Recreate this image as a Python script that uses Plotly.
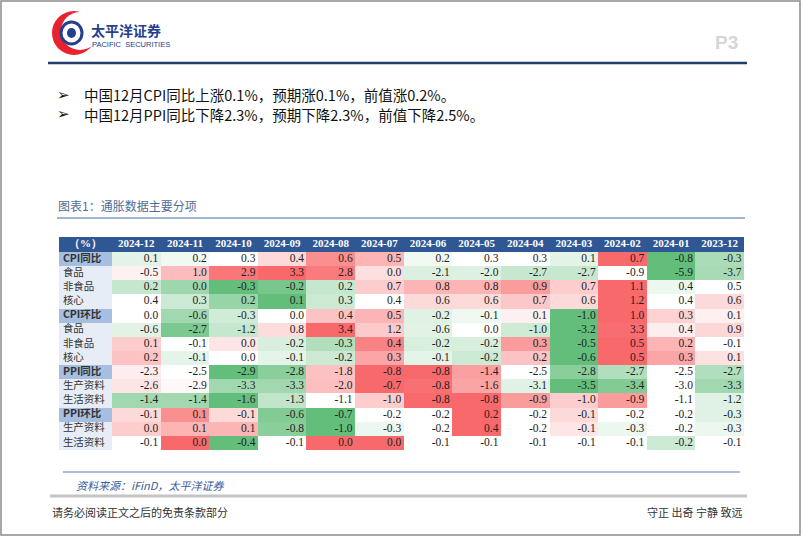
import numpy as np
import plotly.graph_objects as go

# months shown as table columns (newest first)
months = ["2024-12", "2024-11", "2024-10", "2024-09", "2024-08", "2024-07", "2024-06",
          "2024-05", "2024-04", "2024-03", "2024-02", "2024-01", "2023-12"]

row_labels = ["CPI同比", "食品", "非食品", "核心",
              "CPI环比", "食品", "非食品", "核心",
              "PPI同比", "生产资料", "生活资料",
              "PPI环比", "生产资料", "生活资料"]
section_rows = [0, 4, 8, 11]

cpi_yoy = [0.1, 0.2, 0.3, 0.4, 0.6, 0.5, 0.2, 0.3, 0.3, 0.1, 0.7, -0.8, -0.3]
cpi_yoy_food = [-0.5, 1.0, 2.9, 3.3, 2.8, 0.0, -2.1, -2.0, -2.7, -2.7, -0.9, -5.9, -3.7]
cpi_yoy_nonfood = [0.2, 0.0, -0.3, -0.2, 0.2, 0.7, 0.8, 0.8, 0.9, 0.7, 1.1, 0.4, 0.5]
cpi_yoy_core = [0.4, 0.3, 0.2, 0.1, 0.3, 0.4, 0.6, 0.6, 0.7, 0.6, 1.2, 0.4, 0.6]
cpi_mom = [0.0, -0.6, -0.3, 0.0, 0.4, 0.5, -0.2, -0.1, 0.1, -1.0, 1.0, 0.3, 0.1]
cpi_mom_food = [-0.6, -2.7, -1.2, 0.8, 3.4, 1.2, -0.6, 0.0, -1.0, -3.2, 3.3, 0.4, 0.9]
cpi_mom_nonfood = [0.1, -0.1, 0.0, -0.2, -0.3, 0.4, -0.2, -0.2, 0.3, -0.5, 0.5, 0.2, -0.1]
cpi_mom_core = [0.2, -0.1, 0.0, -0.1, -0.2, 0.3, -0.1, -0.2, 0.2, -0.6, 0.5, 0.3, 0.1]
ppi_yoy = [-2.3, -2.5, -2.9, -2.8, -1.8, -0.8, -0.8, -1.4, -2.5, -2.8, -2.7, -2.5, -2.7]
ppi_yoy_prod = [-2.6, -2.9, -3.3, -3.3, -2.0, -0.7, -0.8, -1.6, -3.1, -3.5, -3.4, -3.0, -3.3]
ppi_yoy_cons = [-1.4, -1.4, -1.6, -1.3, -1.1, -1.0, -0.8, -0.8, -0.9, -1.0, -0.9, -1.1, -1.2]
ppi_mom = [-0.1, 0.1, -0.1, -0.6, -0.7, -0.2, -0.2, 0.2, -0.2, -0.1, -0.2, -0.2, -0.3]
ppi_mom_prod = [0.0, 0.1, 0.1, -0.8, -1.0, -0.3, -0.2, 0.4, -0.2, -0.1, -0.3, -0.2, -0.3]
ppi_mom_cons = [-0.1, 0.0, -0.4, -0.1, 0.0, 0.0, -0.1, -0.1, -0.1, -0.1, -0.1, -0.2, -0.1]

rows = [cpi_yoy, cpi_yoy_food, cpi_yoy_nonfood, cpi_yoy_core,
        cpi_mom, cpi_mom_food, cpi_mom_nonfood, cpi_mom_core,
        ppi_yoy, ppi_yoy_prod, ppi_yoy_cons,
        ppi_mom, ppi_mom_prod, ppi_mom_cons]

W, H = 802, 537


def px(x):
    return x / W


def py(y):
    return 1 - y / H


# excel-like 3 colour scale, per row: min -> green, median -> white, max -> red
def row_scale(row):
    arr = np.array(row)
    m, lo, hi = np.median(arr), arr.min(), arr.max()
    out = []
    for v in arr:
        if v >= m:
            out.append((v - m) / (hi - m) if hi > m else 0.0)
        else:
            out.append(-(m - v) / (m - lo))
    return out


z = [row_scale(r) for r in rows]
n_rows, n_cols = len(rows), len(months)
label_w = 1.09
head_h = 1.06

fig = go.Figure()

# data cells
fig.add_trace(go.Heatmap(
    z=z, x=list(range(n_cols + 1)), y=list(range(n_rows + 1)),
    zmin=-1, zmax=1, showscale=False, hoverinfo="skip",
    colorscale=[[0, "#63BE7B"], [0.5, "#FFFFFF"], [1, "#F8696B"]],
))
# label column
fig.add_trace(go.Heatmap(
    z=[[1 if i in section_rows else 0] for i in range(n_rows)],
    x=[-label_w, 0], y=list(range(n_rows + 1)),
    zmin=0, zmax=1, showscale=False, hoverinfo="skip",
    colorscale=[[0, "#E6EDF6"], [1, "#A6BEE0"]],
))
# header row
fig.add_trace(go.Heatmap(
    z=[[0] * (n_cols + 1)], x=[-label_w] + list(range(n_cols + 1)), y=[-head_h, 0],
    zmin=0, zmax=1, showscale=False, hoverinfo="skip",
    colorscale=[[0, "#2F5793"], [1, "#2F5793"]],
))

# cell values
vx, vy, vt = [], [], []
for i, r in enumerate(rows):
    for j, v in enumerate(r):
        vx.append(j + 0.95)
        vy.append(i + 0.5)
        vt.append(f"{v:.1f}")
fig.add_trace(go.Scatter(
    x=vx, y=vy, text=vt, mode="text", textposition="middle left",
    textfont=dict(family="Liberation Serif", size=11.5, color="#222222"),
    hoverinfo="skip", showlegend=False,
))
# row labels
fig.add_trace(go.Scatter(
    x=[-label_w + 0.08] * n_rows, y=[i + 0.5 for i in range(n_rows)],
    text=[f"<b>{t}</b>" if i in section_rows else t for i, t in enumerate(row_labels)],
    mode="text", textposition="middle right",
    textfont=dict(family="Noto Sans CJK SC", size=10.5, color="#333333"),
    hoverinfo="skip", showlegend=False,
))
# header labels
fig.add_trace(go.Scatter(
    x=[-label_w / 2] + [j + 0.5 for j in range(n_cols)], y=[-head_h / 2] * (n_cols + 1),
    text=["<b>（%）</b>"] + [f"<b>{m}</b>" for m in months],
    mode="text", textposition="middle center",
    textfont=dict(family="Liberation Serif", size=11, color="white"),
    hoverinfo="skip", showlegend=False,
))

fig.update_xaxes(visible=False, range=[-label_w, n_cols], domain=[px(59), px(744)], fixedrange=True)
fig.update_yaxes(visible=False, range=[n_rows, -head_h], domain=[py(450), py(237)], fixedrange=True)

shapes = [
    # page frame
    dict(type="rect", xref="paper", yref="paper", x0=px(1), x1=px(800), y0=py(1), y1=py(535),
         line=dict(color="#8C8C8C", width=1.5)),
    # header rule
    dict(type="line", xref="paper", yref="paper", x0=px(48), x1=px(747), y0=py(63), y1=py(63),
         line=dict(color="#223E6E", width=2.5)),
    # chart title rule
    dict(type="line", xref="paper", yref="paper", x0=px(57), x1=px(745), y0=py(218), y1=py(218),
         line=dict(color="#7F9CC4", width=1.5)),
    # source rule
    dict(type="line", xref="paper", yref="paper", x0=px(63), x1=px(740), y0=py(472), y1=py(472),
         line=dict(color="#5A7DB8", width=1.2)),
    # footer grey bar
    dict(type="line", xref="paper", yref="paper", x0=px(50), x1=px(747), y0=py(496), y1=py(496),
         line=dict(color="#C4C4C4", width=3)),
    # logo: red crescent
    dict(type="circle", xref="paper", yref="paper", x0=px(52), x1=px(96), y0=py(11), y1=py(55),
         fillcolor="#E8222E", line=dict(width=0)),
    dict(type="circle", xref="paper", yref="paper", x0=px(61), x1=px(99), y0=py(12), y1=py(50),
         fillcolor="white", line=dict(width=0)),
    # logo: blue ring
    dict(type="circle", xref="paper", yref="paper", x0=px(61), x1=px(82), y0=py(22), y1=py(44),
         fillcolor="white", line=dict(color="#24408E", width=3)),
    dict(type="circle", xref="paper", yref="paper", x0=px(67), x1=px(76), y0=py(28), y1=py(38),
         fillcolor="#24408E", line=dict(width=0)),
]

annotations = [
    dict(text="<b>太平洋证券</b>", x=px(89), y=py(30), xanchor="left", yanchor="middle",
         font=dict(family="Noto Sans CJK SC", size=14, color="#24408E")),
    dict(text="PACIFIC  SECURITIES", x=px(90), y=py(45), xanchor="left", yanchor="middle",
         font=dict(family="Liberation Sans", size=7.5, color="#24408E")),
    dict(text="<b>P3</b>", x=px(740), y=py(43), xanchor="right", yanchor="middle",
         font=dict(family="Liberation Sans", size=19, color="#D6D6D6")),
    dict(text="➢", x=px(55), y=py(95), xanchor="left", yanchor="middle",
         font=dict(family="DejaVu Sans", size=15, color="#111111")),
    dict(text="中国12月CPI同比上涨0.1%，预期涨0.1%，前值涨0.2%。", x=px(82), y=py(95),
         xanchor="left", yanchor="middle",
         font=dict(family="Noto Sans CJK SC", size=14.5, color="#111111")),
    dict(text="➢", x=px(55), y=py(114), xanchor="left", yanchor="middle",
         font=dict(family="DejaVu Sans", size=15, color="#111111")),
    dict(text="中国12月PPI同比下降2.3%，预期下降2.3%，前值下降2.5%。", x=px(82), y=py(114),
         xanchor="left", yanchor="middle",
         font=dict(family="Noto Sans CJK SC", size=14.5, color="#111111")),
    dict(text="图表1：通胀数据主要分项", x=px(56), y=py(206), xanchor="left", yanchor="middle",
         font=dict(family="Noto Sans CJK SC", size=12, color="#4F6E96")),
    dict(text="<i>资料来源：iFinD，太平洋证券</i>", x=px(74), y=py(485), xanchor="left", yanchor="middle",
         font=dict(family="Noto Sans CJK SC", size=11, color="#3A5BA0")),
    dict(text="请务必阅读正文之后的免责条款部分", x=px(50), y=py(512), xanchor="left", yanchor="middle",
         font=dict(family="Noto Sans CJK SC", size=11, color="#333333")),
    dict(text="守正 出奇 宁静 致远", x=px(744), y=py(512), xanchor="right", yanchor="middle",
         font=dict(family="Noto Sans CJK SC", size=11, color="#333333")),
]
for a in annotations:
    a.update(xref="paper", yref="paper", showarrow=False)

fig.update_layout(
    width=W, height=H,
    margin=dict(l=0, r=0, t=0, b=0),
    paper_bgcolor="white", plot_bgcolor="white",
    showlegend=False,
    shapes=shapes, annotations=annotations,
)

# page body has an 8px default margin; drop it so the figure fills the window
fig.write_html("out.html", config={"displayModeBar": False},
               post_script="document.body.style.margin='0';")
